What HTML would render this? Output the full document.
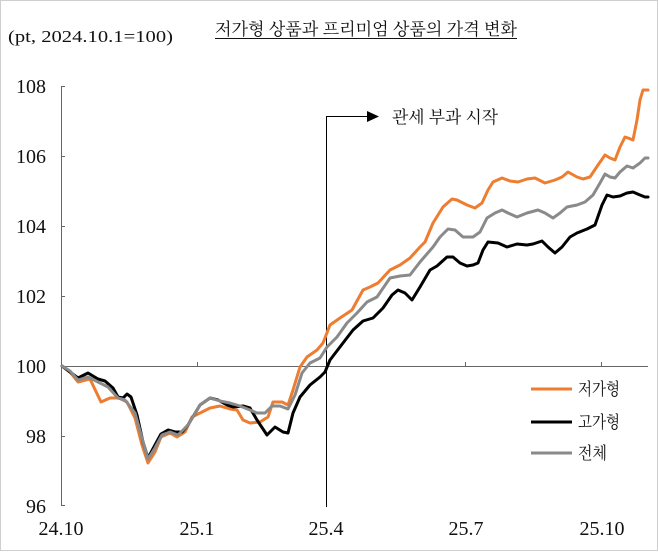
<!DOCTYPE html>
<html><head><meta charset="utf-8"><style>
html,body{margin:0;padding:0;background:#fff;}
svg{display:block;}
</style></head><body>
<svg width="658" height="552" viewBox="0 0 658 552" xmlns="http://www.w3.org/2000/svg">
<rect x="0" y="0" width="658" height="552" fill="#fff"/>
<rect x="0.5" y="0.5" width="657" height="550" fill="none" stroke="#cfcfcf" stroke-width="1"/>

<!-- title & unit -->
<text x="8" y="42" font-family="Liberation Serif, serif" font-size="17" textLength="165" lengthAdjust="spacingAndGlyphs" fill="#111">(pt, 2024.10.1=100)</text>
<text x="215" y="35" font-family="Liberation Serif, 'Noto Serif CJK SC', serif" font-size="17" textLength="302" lengthAdjust="spacingAndGlyphs" fill="#111">저가형 상품과 프리미엄 상품의 가격 변화</text>
<line x1="215" y1="38.5" x2="517" y2="38.5" stroke="#111" stroke-width="1"/>

<!-- axes -->
<g stroke="#666" stroke-width="1" fill="none">
<line x1="61.5" y1="86" x2="61.5" y2="506"/>
<line x1="61.5" y1="86.5" x2="65" y2="86.5"/>
<line x1="61.5" y1="156.5" x2="65" y2="156.5"/>
<line x1="61.5" y1="226.5" x2="65" y2="226.5"/>
<line x1="61.5" y1="296.5" x2="65" y2="296.5"/>
<line x1="61.5" y1="436.5" x2="65" y2="436.5"/>
<line x1="61.5" y1="505.5" x2="65" y2="505.5"/>
<line x1="61.5" y1="366.5" x2="648" y2="366.5"/>
<line x1="197.5" y1="362" x2="197.5" y2="366"/>
<line x1="465.5" y1="362" x2="465.5" y2="366"/>
<line x1="601.5" y1="362" x2="601.5" y2="366"/>
</g>

<!-- y labels -->
<g font-family="Liberation Serif, serif" font-size="20" fill="#111" text-anchor="end">
<text x="46" y="93">108</text>
<text x="46" y="163">106</text>
<text x="46" y="233">104</text>
<text x="46" y="303">102</text>
<text x="46" y="373">100</text>
<text x="46" y="443">98</text>
<text x="46" y="513">96</text>
</g>
<!-- x labels -->
<g font-family="Liberation Serif, serif" font-size="20" fill="#111" text-anchor="middle">
<text x="61" y="535">24.10</text>
<text x="197" y="535">25.1</text>
<text x="326" y="535">25.4</text>
<text x="466" y="535">25.7</text>
<text x="602" y="535">25.10</text>
</g>

<!-- annotation -->
<line x1="326.5" y1="116" x2="326.5" y2="507" stroke="#000" stroke-width="1"/>
<line x1="326" y1="116.5" x2="368" y2="116.5" stroke="#000" stroke-width="1"/>
<polygon points="367,111 379,116.5 367,122" fill="#000"/>
<text x="392" y="123" font-family="Liberation Serif, 'Noto Serif CJK SC', serif" font-size="17" textLength="106" lengthAdjust="spacingAndGlyphs" fill="#111">관세 부과 시작</text>

<!-- series -->
<g fill="none" stroke-width="3" stroke-linejoin="round" stroke-linecap="round">
<polyline stroke="#ED7D31" points="62,366 70,372 78,382 90,379 101,402 110,398 119,398 127,402 135,418 142,445 148,463 155,452 161,437 170,433 177,437 185,432 192,417 200,413 210,408 220,406 230,409 237,410 243,420 250,423 260,422 268,417 273,402 282,402 288,405 293,390 300,367 307,357 317,350 323,343 330,325 340,318 352,310 363,290 370,287 378,283 390,270 400,265 410,258 420,247 425,242 433,223 443,207 452,199 457,200 467,205 475,208 482,203 488,190 493,182 502,178 510,181 518,182 527,179 535,178 545,183 555,180 562,177 568,172 577,177 583,179 590,177 598,165 605,155 610,158 615,160 620,147 625,137 628,138 633,140 637,120 640,100 643,90 648,90"/>
<polyline stroke="#000" points="62,366 70,372 78,378 88,373 98,379 105,381 113,388 118,397 123,398 127,394 131,397 137,415 143,442 148,458 155,445 161,434 168,430 175,432 182,432 188,425 200,405 210,398 218,400 227,405 233,407 243,406 250,408 257,420 267,435 275,427 283,432 288,433 293,413 300,397 310,385 320,377 325,372 330,360 343,343 353,330 363,321 373,318 383,308 392,295 398,290 405,293 412,300 420,287 430,270 437,266 447,257 453,257 460,263 467,266 473,265 478,263 483,250 488,242 498,243 507,247 517,244 527,245 533,244 542,241 548,247 555,253 562,247 570,237 577,233 587,229 595,225 602,205 607,195 613,197 620,196 627,193 633,192 640,195 645,197 648,197"/>
<polyline stroke="#8A8A8A" points="62,366 70,371 78,380 88,377 98,382 108,387 118,398 125,400 135,413 142,438 148,459 155,448 162,435 170,432 178,435 188,425 200,405 210,398 220,401 230,403 240,406 250,410 257,413 265,413 272,406 280,406 288,409 295,395 302,373 310,363 320,358 327,347 337,337 347,323 357,313 367,302 377,297 390,278 400,276 410,275 420,262 433,247 440,237 448,229 455,230 463,237 473,237 480,232 487,218 495,213 502,210 508,213 517,217 527,213 538,210 545,213 553,218 560,213 567,207 577,205 585,202 593,195 600,183 605,174 610,177 615,178 620,172 627,166 633,168 640,163 645,158 648,158"/>
</g>

<!-- legend -->
<g stroke-width="3">
<line x1="531" y1="389" x2="572" y2="389" stroke="#ED7D31"/>
<line x1="531" y1="422" x2="572" y2="422" stroke="#000"/>
<line x1="531" y1="453" x2="572" y2="453" stroke="#8A8A8A"/>
</g>
<g font-family="Liberation Serif, 'Noto Serif CJK SC', serif" font-size="17" fill="#111">
<text x="578" y="395" textLength="42" lengthAdjust="spacingAndGlyphs">저가형</text>
<text x="578" y="428" textLength="42" lengthAdjust="spacingAndGlyphs">고가형</text>
<text x="578" y="459" textLength="29" lengthAdjust="spacingAndGlyphs">전체</text>
</g>
</svg>
</body></html>
